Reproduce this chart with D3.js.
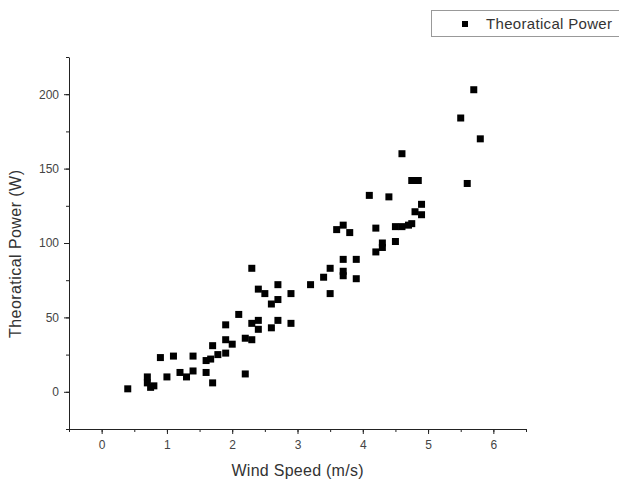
<!DOCTYPE html>
<html>
<head>
<meta charset="utf-8">
<script src="https://cdn.jsdelivr.net/npm/d3@7"></script>
<style>
body { margin: 0; background: #fff; }
svg { font-family: "Liberation Sans", Arial, sans-serif; }
.axis path, .axis line { stroke: #222; }
.axis text { fill: #444; font-size: 12px; }
</style>
</head>
<body>
<svg id="chart" width="619" height="481"></svg>
<script>
// wind speed (m/s)
const windSpeed = [
  0.4, 0.7, 0.7, 0.75, 0.8, 0.9, 1.1, 1.4, 1.0, 1.2, 1.3, 1.4,
  1.6, 1.7, 1.6, 1.67, 1.78, 1.9, 1.7, 1.9, 2.0, 1.9, 2.1, 2.2,
  2.2, 2.3, 2.3, 2.4, 2.4, 2.6, 2.7, 2.9, 2.3, 2.4, 2.5, 2.7,
  2.6, 2.7, 2.9, 3.2, 3.5, 3.4, 3.5, 3.7, 3.7, 3.7, 3.9, 3.9,
  3.6, 3.7, 3.8, 4.1, 4.4, 4.2, 4.2, 4.3, 4.3, 4.5, 4.5, 4.6,
  4.7, 4.75, 4.6, 4.75, 4.85, 4.9, 4.8, 4.9, 5.5, 5.7, 5.8, 5.6
]
// theoretical power (W)
const power = [
  2, 10, 6, 3, 4, 23, 24, 24, 10, 13, 10, 14,
  13, 6, 21, 22, 25, 26, 31, 35, 32, 45, 52, 12,
  36, 35, 46, 48, 42, 43, 48, 46, 83, 69, 66, 72,
  59, 62, 66, 72, 66, 77, 83, 89, 81, 78, 89, 76,
  109, 112, 107, 132, 131, 110, 94, 97, 100, 101, 111, 111,
  112, 113, 160, 142, 142, 126, 121, 119, 184, 203, 170, 140
]
const xTicks = [0, 1, 2, 3, 4, 5, 6]
const yTicks = [0, 50, 100, 150, 200]
const seriesName = 'Theoratical Power'

const data = windSpeed.map((x, i) => ({ x: x, y: power[i] }))

const svg = d3.select('#chart')
const margin = { left: 69, top: 57, right: 93, bottom: 52 }
const w = 619 - margin.left - margin.right
const h = 481 - margin.top - margin.bottom

const x = d3.scaleLinear().domain([-0.5, 6.5]).range([0, w])
const y = d3.scaleLinear().domain([-25, 225]).range([h, 0])

const g = svg.append('g').attr('transform', `translate(${margin.left},${margin.top})`)

// minor ticks
g.append('g').attr('class', 'axis')
  .attr('transform', `translate(0,${h})`)
  .call(d3.axisBottom(x).tickValues(d3.range(-0.5, 6.51, 0.5)).tickSize(3).tickFormat(''))
  .call(s => s.select('.domain').remove())
g.append('g').attr('class', 'axis')
  .call(d3.axisLeft(y).tickValues(d3.range(-25, 226, 25)).tickSize(3).tickFormat(''))
  .call(s => s.select('.domain').remove())

g.append('g').attr('class', 'axis')
  .attr('transform', `translate(0,${h})`)
  .call(d3.axisBottom(x).tickValues(xTicks).tickFormat(d3.format('d')).tickSize(5).tickSizeOuter(0).tickPadding(6))
g.append('g').attr('class', 'axis')
  .call(d3.axisLeft(y).tickValues(yTicks).tickFormat(d3.format('d')).tickSize(5).tickSizeOuter(0).tickPadding(5))

const sz = 7
g.selectAll('.pt')
  .data(data)
  .enter()
    .append('rect')
    .attr('class', 'pt')
    .attr('x', d => x(d.x) - sz / 2)
    .attr('y', d => y(d.y) - sz / 2)
    .attr('width', sz)
    .attr('height', sz)
    .attr('fill', '#000')

svg.append('text')
  .attr('x', margin.left + x(3))
  .attr('y', 476)
  .attr('text-anchor', 'middle')
  .attr('font-size', 16)
  .attr('textLength', 132)
  .attr('fill', '#333')
  .text('Wind Speed (m/s)')

svg.append('text')
  .attr('transform', `translate(21,254) rotate(-90)`)
  .attr('text-anchor', 'middle')
  .attr('font-size', 16)
  .attr('textLength', 168)
  .attr('fill', '#333')
  .text('Theoratical Power (W)')

// legend
const lg = svg.append('g')
lg.append('rect')
  .attr('x', 431.5).attr('y', 10.5)
  .attr('width', 200).attr('height', 26)
  .attr('fill', '#fff').attr('stroke', '#999')
lg.append('rect')
  .attr('x', 462).attr('y', 21).attr('width', 6).attr('height', 6)
  .attr('fill', '#000')
lg.append('text')
  .attr('x', 486).attr('y', 29)
  .attr('font-size', 15).attr('textLength', 126)
  .attr('fill', '#333')
  .text(seriesName)
</script>
</body>
</html>
